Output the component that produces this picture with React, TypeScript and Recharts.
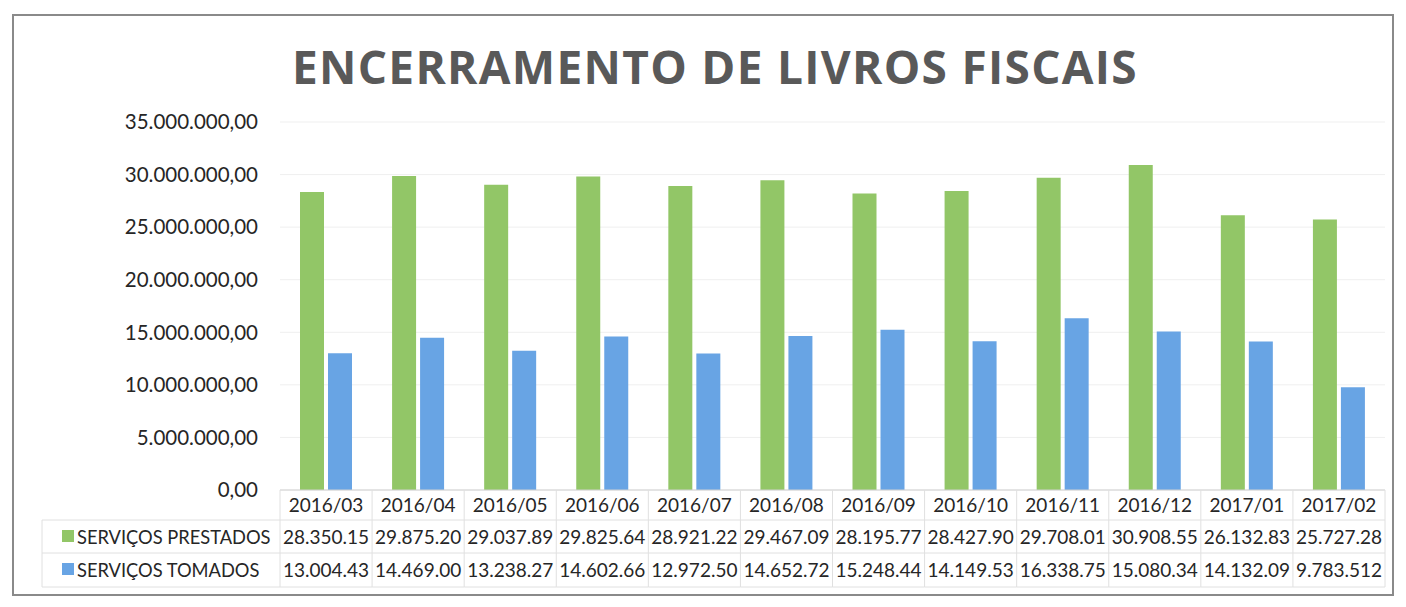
import React from 'react';
import { BarChart, Bar, XAxis, YAxis, CartesianGrid } from 'recharts';

// ---------------------------------------------------------------------------
// Data
// ---------------------------------------------------------------------------

const months = [
  '2016/03', '2016/04', '2016/05', '2016/06', '2016/07', '2016/08',
  '2016/09', '2016/10', '2016/11', '2016/12', '2017/01', '2017/02',
];

const servicosPrestados = [
  28350150, 29875200, 29037890, 29825640, 28921220, 29467090,
  28195770, 28427900, 29708010, 30908550, 26132830, 25727280,
];

const servicosTomados = [
  13004430, 14469000, 13238270, 14602660, 12972500, 14652720,
  15248440, 14149530, 16338750, 15080340, 14132090, 9783512,
];

const seriesNames = ['SERVIÇOS PRESTADOS', 'SERVIÇOS TOMADOS'];
const yTicks = [0, 5000000, 10000000, 15000000, 20000000, 25000000, 30000000, 35000000];

const title = 'ENCERRAMENTO DE LIVROS FISCAIS';

// ---------------------------------------------------------------------------
// Layout
// ---------------------------------------------------------------------------

const W = 1390;
const H = 591;
const MARGIN = { top: 114, right: 13, left: 0, bottom: 9 };
const Y_AXIS_W = 272;
const X_AXIS_H = 100;
const BAND = (W - MARGIN.left - MARGIN.right - Y_AXIS_W) / months.length;

const GREEN = '#92c667';
const BLUE = '#68a4e4';
const TEXT = '#262626';
const LINE = '#e0e0e0';
const FONT = 'Lato, "Open Sans", sans-serif';

const chartData = months.map((m, i) => ({
  month: m,
  prestados: servicosPrestados[i],
  tomados: servicosTomados[i],
}));

// y axis: 35.000.000,00
function fmtAxis(v: number) {
  const s = Math.round(v).toString().replace(/\B(?=(\d{3})+(?!\d))/g, '.');
  return s + ',00';
}

// data table cells are cut at 9 chars like the Excel table
function fmtCell(v: number) {
  return Math.round(v).toString().replace(/\B(?=(\d{3})+(?!\d))/g, '.').slice(0, 9);
}

// eslint-disable-next-line @typescript-eslint/no-explicit-any
const TableTick = (props: any) => {
  const { x, y, payload } = props;
  const i = payload.index;
  const left = x - BAND / 2;
  const right = x + BAND / 2;
  const rows = [servicosPrestados[i], servicosTomados[i]];
  const colors = [GREEN, BLUE];

  return (
    <g fontFamily={FONT} fontSize={19} fill={TEXT}>
      {/* cell borders */}
      <line x1={right} y1={y} x2={right} y2={y + 97} stroke={LINE} />
      <line x1={left} y1={y + 30} x2={right} y2={y + 30} stroke={LINE} />
      <line x1={left} y1={y + 63} x2={right} y2={y + 63} stroke={LINE} />
      <line x1={left} y1={y + 97} x2={right} y2={y + 97} stroke={LINE} />
      {i === 0 && <line x1={left} y1={y} x2={left} y2={y + 97} stroke={LINE} />}

      <text x={x} y={y + 22} textAnchor="middle">{payload.value}</text>
      {rows.map((v, r) => (
        <text key={r} x={x} y={y + 54 + r * 33} textAnchor="middle">{fmtCell(v)}</text>
      ))}

      {/* row headers with legend keys */}
      {i === 0 && (
        <g>
          <line x1={left - 238} y1={y + 30} x2={left} y2={y + 30} stroke={LINE} />
          <line x1={left - 238} y1={y + 63} x2={left} y2={y + 63} stroke={LINE} />
          <line x1={left - 238} y1={y + 97} x2={left} y2={y + 97} stroke={LINE} />
          <line x1={left - 238} y1={y + 30} x2={left - 238} y2={y + 97} stroke={LINE} />
          {seriesNames.map((name, r) => (
            <g key={name}>
              <rect x={left - 218} y={y + 40 + r * 33} width={12} height={12} fill={colors[r]} />
              <text x={left - 203} y={y + 54 + r * 33} textAnchor="start" fontSize={18.3}>{name}</text>
            </g>
          ))}
        </g>
      )}
    </g>
  );
};

export default function App() {
  return (
    <div style={{ position: 'relative', width: W, height: H, background: '#fff' }}>
      <div
        style={{
          position: 'absolute', left: 4, top: 6, width: W - 8, height: H - 9,
          border: '2px solid #8a8a8a', boxSizing: 'border-box',
        }}
      />
      <div
        style={{
          position: 'absolute', left: 0, top: 28, width: 1414, textAlign: 'center',
          fontFamily: '"Open Sans", sans-serif', fontWeight: 700, fontSize: 46,
          letterSpacing: 1.3, color: '#595959', lineHeight: '60px',
        }}
      >
        {title}
      </div>
      <BarChart
        width={W}
        height={H}
        data={chartData}
        margin={MARGIN}
        barSize={24}
        barGap={4}
        style={{ position: 'absolute', left: 0, top: 0 }}
      >
        <CartesianGrid vertical={false} stroke="#efefef" />
        <YAxis
          width={Y_AXIS_W}
          domain={[0, 35000000]}
          ticks={yTicks}
          tickFormatter={fmtAxis}
          axisLine={false}
          tickLine={false}
          tickSize={0}
          tickMargin={22}
          tick={{ fill: TEXT, fontSize: 20.5, fontFamily: FONT }}
        />
        <XAxis
          dataKey="month"
          height={X_AXIS_H}
          axisLine={{ stroke: '#d0d0d0' }}
          tickLine={false}
          tickSize={0}
          tickMargin={0}
          interval={0}
          tick={<TableTick />}
        />
        <Bar dataKey="prestados" name={seriesNames[0]} fill={GREEN} isAnimationActive={false} />
        <Bar dataKey="tomados" name={seriesNames[1]} fill={BLUE} isAnimationActive={false} />
      </BarChart>
    </div>
  );
}
